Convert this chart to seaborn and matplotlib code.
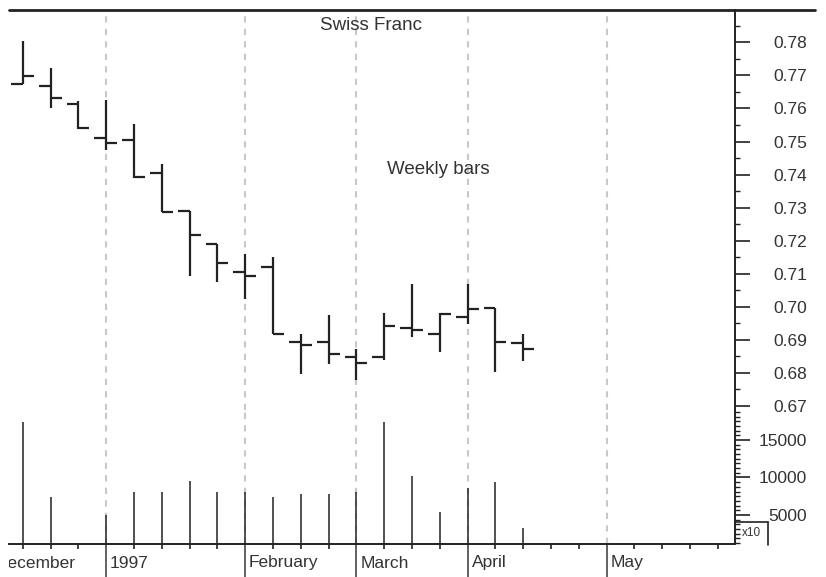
import numpy as np
import pandas as pd
import seaborn as sns
import matplotlib
matplotlib.use("Agg")
from matplotlib import pyplot as plt
from matplotlib import ticker
from matplotlib.transforms import Bbox, TransformedBbox

sns.set_theme(style="white")
plt.rcParams['font.family'] = ['Liberation Sans', 'DejaVu Sans']

# weekly bars, index 0 = week of 9 Dec 1996
week = list(range(19))
open_ = [0.7674, 0.7668, 0.7615, 0.7512, 0.7504, 0.7405, 0.7289, 0.7189, 0.7105, 0.7120,
         0.6893, 0.6893, 0.6848, 0.6847, 0.6934, 0.6917, 0.6968, 0.6995, 0.6890]
high = [0.7804, 0.7724, 0.7622, 0.7627, 0.7553, 0.7432, 0.7289, 0.7189, 0.7159, 0.7151,
        0.6918, 0.6974, 0.6871, 0.6982, 0.7067, 0.6980, 0.7067, 0.6995, 0.6917]
low = [0.7674, 0.7601, 0.7538, 0.7475, 0.7391, 0.7286, 0.7092, 0.7076, 0.7022, 0.6917,
       0.6797, 0.6827, 0.6777, 0.6838, 0.6907, 0.6862, 0.6948, 0.6802, 0.6835]
close = [0.7699, 0.7632, 0.7540, 0.7496, 0.7394, 0.7287, 0.7216, 0.7133, 0.7092, 0.6917,
         0.6884, 0.6858, 0.6828, 0.6940, 0.6928, 0.6979, 0.6994, 0.6893, 0.6872]
volume = [17360, 7440, np.nan, 5000, 8030, 8030, 9570, 8030, 8030, 7440,
          7760, 7760, 8030, 17360, 10200, 5440, 8640, 9360, 3230]

month_pos = [-1, 3, 8, 12, 16, 21]
month_labels = ["December", "1997", "February", "March", "April", "May"]

df = pd.DataFrame({"week": week, "open": open_, "high": high, "low": low,
                   "close": close, "volume": volume})

W, H = 826, 577
fig = plt.figure(figsize=(W / 100, H / 100), dpi=100)
fig.patch.set_facecolor("white")

px_l, px_r, px_t, px_mid, px_b = 9, 735, 10, 410, 544
ax = fig.add_axes([px_l / W, (H - px_mid) / H, (px_r - px_l) / W, (px_mid - px_t) / H])
axv = fig.add_axes([px_l / W, (H - px_b) / H, (px_r - px_l) / W, (px_b - px_mid) / H],
                   sharex=ax)

ink = "#222222"
txt = "#333333"
grid_c = "#c8c8c8"

# month separators
for a in (ax, axv):
    a.set_facecolor("white")
    for m in month_pos[1:]:
        a.axvline(m, color=grid_c, lw=1.5, dashes=(3, 3), zorder=0)

# OHLC bars
ax.vlines(df["week"], df["low"], df["high"], color=ink, lw=1.6)
ax.hlines(df["open"], df["week"] - 0.42, df["week"], color=ink, lw=1.6)
ax.hlines(df["close"], df["week"], df["week"] + 0.4, color=ink, lw=1.6)

# volume
vol = df.dropna(subset=["volume"])
axv.vlines(vol["week"], 0, vol["volume"], color="#333333", lw=1.2)

ax.set_xlim(-0.493, 25.62)
ax.set_ylim(0.66869, 0.78983)
axv.set_ylim(1133, 19000)

# spines
ax.spines["left"].set_visible(False)
ax.spines["bottom"].set_visible(False)
ax.spines["top"].set_visible(False)
axv.spines["left"].set_visible(False)
axv.spines["top"].set_visible(False)
for a in (ax, axv):
    for s in ("right", "bottom"):
        a.spines[s].set_color(ink)
        a.spines[s].set_linewidth(1.4)

# top rule running across to the labels
fig.add_artist(plt.Line2D([px_l / W, 815 / W], [(H - px_t) / H] * 2,
                          color=ink, lw=2.0))

# right axis ticks
ax.yaxis.set_major_locator(ticker.MultipleLocator(0.01))
ax.yaxis.set_minor_locator(ticker.MultipleLocator(0.005))
ax.yaxis.set_major_formatter(ticker.FormatStrFormatter("%.2f"))
axv.yaxis.set_major_locator(ticker.FixedLocator([5000, 10000, 15000]))
axv.yaxis.set_minor_locator(ticker.MultipleLocator(625))
axv.yaxis.set_major_formatter(ticker.FormatStrFormatter("%d"))
for a in (ax, axv):
    a.yaxis.tick_right()
    a.tick_params(axis="y", which="major", direction="out", length=10.8, width=1.2,
                  color=ink, labelsize=12.5, labelcolor=txt, pad=41, right=True, left=False)
    a.tick_params(axis="y", which="minor", direction="out", length=3.6, width=1.0,
                  color=ink, right=True, left=False)
    for lab in a.get_yticklabels():
        lab.set_horizontalalignment("right")

# x axis: weekly ticks, long ticks at month starts
ax.tick_params(axis="x", which="both", bottom=False, labelbottom=False)
axv.xaxis.set_major_locator(ticker.FixedLocator(month_pos))
axv.xaxis.set_minor_locator(ticker.MultipleLocator(1))
axv.xaxis.set_major_formatter(ticker.NullFormatter())
axv.tick_params(axis="x", which="major", direction="out", length=24, width=1.3,
                color="#555555", bottom=True)
axv.tick_params(axis="x", which="minor", direction="out", length=3.6, width=1.2,
                color=ink, bottom=True)

clip = TransformedBbox(Bbox.from_extents(px_l / W, 0, 1, 1), fig.transFigure)
for pos, lab in zip(month_pos, month_labels):
    dx = 1 if pos == month_pos[0] else 4
    t = axv.annotate(lab, xy=(pos, 0), xycoords=("data", "axes fraction"),
                     xytext=(dx, -19), textcoords="offset pixels",
                     ha="left", va="center", fontsize=12.5, color=txt,
                     annotation_clip=False)
    t.set_clip_box(clip)
    t.set_clip_on(True)

# x10 marker for the volume scale
bx0, bx1, by0, by1 = 735, 768, 522, 545
fig.add_artist(plt.Line2D([bx0 / W, bx1 / W], [(H - by0) / H] * 2, color=ink, lw=1.2))
fig.add_artist(plt.Line2D([bx1 / W] * 2, [(H - by0) / H, (H - by1) / H], color=ink, lw=1.2))
fig.text((bx0 + bx1) / 2 / W, (H - (by0 + by1) / 2) / H, "x10", ha="center",
         va="center", fontsize=8.5, color=txt)

ax.text(0.4986, 0.9625, "Swiss Franc", transform=ax.transAxes, ha="center",
        va="center", fontsize=13.5, color=txt)
ax.text(0.591, 0.6, "Weekly bars", transform=ax.transAxes, ha="center",
        va="center", fontsize=13.5, color=txt)

fig.savefig("out.png", dpi=100, facecolor="white")
